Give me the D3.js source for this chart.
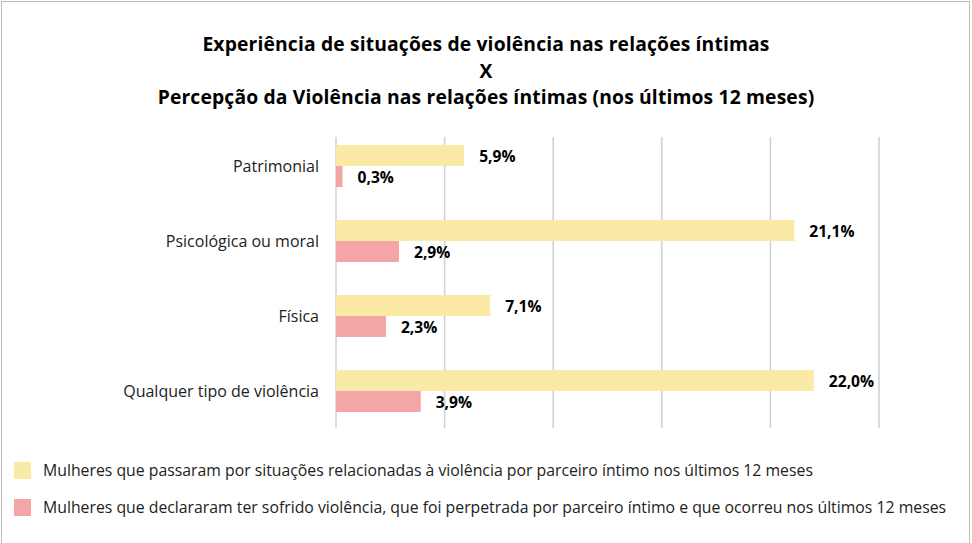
<!DOCTYPE html>
<html lang="pt">
<head>
<meta charset="utf-8">
<title>Experiência x Percepção da violência</title>
<style>
  body { margin: 0; background: #fff; }
  .title { font-family: "Open Sans", Arial, sans-serif; font-weight: bold; font-size: 19.3px; letter-spacing: 0.15px; fill: #000; text-anchor: middle; }
  .cat { font-family: "Open Sans", Arial, sans-serif; font-size: 16px; fill: #222; text-anchor: end; }
  .val { font-family: "Open Sans", Arial, sans-serif; font-weight: bold; font-size: 15.6px; fill: #000; }
  .leg { font-family: "Open Sans", Arial, sans-serif; font-size: 15.8px; fill: #222; }
  .grid line { stroke: #cfcfcf; stroke-width: 1.5; }
</style>
</head>
<body>
<div id="chart"></div>
<script src="https://cdn.jsdelivr.net/npm/d3@7"></script>
<script>

var titleLines = ["Experiência de situações de violência nas relações íntimas",
                  "X",
                  "Percepção da Violência nas relações íntimas (nos últimos 12 meses)"];
var categories = ["Patrimonial", "Psicológica ou moral", "Física ", "Qualquer tipo de violência"];
var seriesNames = ["Mulheres que passaram por situações relacionadas à violência por parceiro íntimo nos últimos 12 meses",
                   "Mulheres que declararam ter sofrido violência, que foi perpetrada por parceiro íntimo e que ocorreu nos últimos 12 meses"];
var experiencia = [5.9, 21.1, 7.1, 22.0];
var percepcao = [0.3, 2.9, 2.3, 3.9];
var gridTicks = [0, 5, 10, 15, 20, 25];
var colors = ["#fbeaa6", "#f4a6a6"];

var width = 972, height = 543;

var svg = d3.select("#chart").append("svg")
    .attr("width", width)
    .attr("height", height);

// outer frame
svg.append("rect")
   .attr("x", 1.5).attr("y", 1.5)
   .attr("width", 968).attr("height", 560)
   .attr("fill", "#fff")
   .attr("stroke", "#bdbdbd")
   .attr("stroke-width", 1);

svg.selectAll("text.title")
   .data(titleLines)
   .enter().append("text")
   .attr("class", "title")
   .attr("x", 486)
   .attr("y", function(d, i){ return 51 + i * 26.5; })
   .text(function(d){ return d; });

var x = d3.scaleLinear().domain([0, 25]).range([336, 879]);
var y = d3.scaleBand().domain(categories).range([128.5, 428.5]);
var barH = 21;

var grid = svg.append("g").attr("class", "grid");
grid.selectAll("line")
    .data(gridTicks)
    .enter().append("line")
    .attr("x1", function(d){ return x(d); })
    .attr("x2", function(d){ return x(d); })
    .attr("y1", 137)
    .attr("y2", 428);

var series = [experiencia, percepcao];

series.forEach(function(vals, s) {
  var g = svg.append("g");
  g.selectAll("rect")
   .data(vals)
   .enter().append("rect")
   .attr("x", x(0))
   .attr("y", function(d, i){ return y(categories[i]) + y.bandwidth() / 2 - barH + s * barH; })
   .attr("width", function(d){ return x(d) - x(0); })
   .attr("height", barH)
   .attr("fill", colors[s]);

  g.selectAll("text")
   .data(vals)
   .enter().append("text")
   .attr("class", "val")
   .attr("x", function(d){ return x(d) + 15; })
   .attr("y", function(d, i){ return y(categories[i]) + y.bandwidth() / 2 - barH / 2 + s * barH + 1.5; })
   .attr("dy", "0.35em")
   .text(function(d){ return d.toFixed(1).replace(".", ",") + "%"; });
});

svg.selectAll("text.cat")
   .data(categories)
   .enter().append("text")
   .attr("class", "cat")
   .attr("x", 319)
   .attr("y", function(d){ return y(d) + y.bandwidth() / 2; })
   .attr("dy", "0.35em")
   .text(function(d){ return d; });

var leg = svg.selectAll("g.legend")
   .data(seriesNames)
   .enter().append("g")
   .attr("class", "legend")
   .attr("transform", function(d, i){ return "translate(14," + (462 + i * 37) + ")"; });

leg.append("rect")
   .attr("width", 17).attr("height", 17)
   .attr("fill", function(d, i){ return colors[i]; });

leg.append("text")
   .attr("class", "leg")
   .attr("x", 29)
   .attr("y", 8.5)
   .attr("dy", "0.35em")
   .text(function(d){ return d; });

</script>
</body>
</html>
